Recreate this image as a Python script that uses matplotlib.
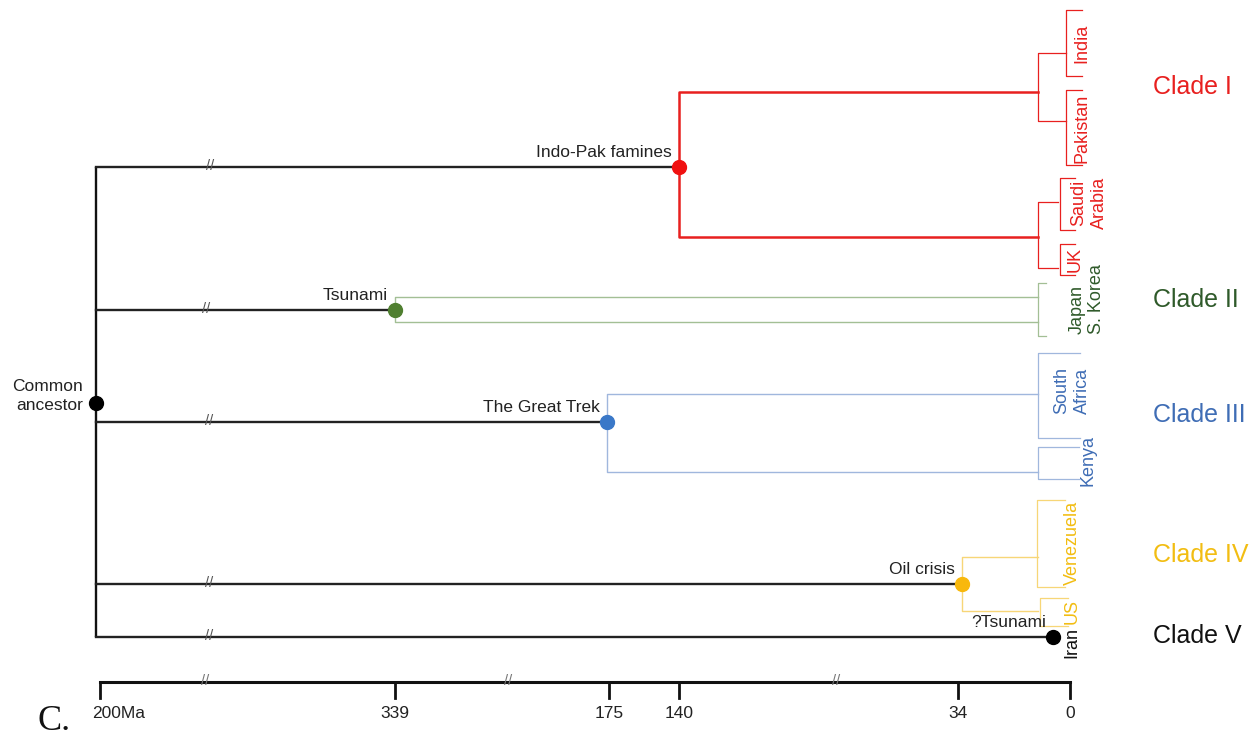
import matplotlib
matplotlib.use("Agg")
import matplotlib.pyplot as plt
from matplotlib import font_manager

# tree drawn on a schematic canvas (broken time axis, positions in canvas units)
TICK_LABELS = ["200Ma", "339", "175", "140", "34", "0"]
TICK_POS = [100, 395, 609, 679, 958, 1070]
AXIS_BREAKS = [205, 508, 836]

ROOT_X = 96
ROOT_Y = 403

EVENTS = ["Indo-Pak famines", "Tsunami", "The Great Trek", "Oil crisis", "?Tsunami"]
EVENT_X = [679, 395, 607, 962, 1053]
EVENT_Y = [167, 310, 422, 584, 637]
BRANCH_BREAK_X = [210, 206, 209, 209, 209]

# first split below each event: upper / lower child rows, x where the children join
SPLIT_TOP = [92, 297, 394, 557, None]
SPLIT_BOT = [237, 322, 472, 611, None]
SPLIT_END = [1038, 1038, 1038, 1038, None]

CLADES = ["Clade I", "Clade II", "Clade III", "Clade IV", "Clade V"]
CLADE_Y = [87, 300, 415, 555, 636]
TEXT_COLORS = ["#e8201f", "#2f5a2a", "#3f6db5", "#f2bd12", "#111111"]
DOT_COLORS = ["#f01010", "#4f7f30", "#3a78c8", "#f8b80c", "#000000"]
LINE_COLORS = ["#e8201f", "#a3bf95", "#a0b7dd", "#f7d677", "#222222"]

# inner nodes of clade I (x, y_top, y_bot, x_end)
RED_INNER = [(1038, 53, 121, 1066), (1038, 202, 268, 1058)]

# leaf brackets: clade index, x, y_top, y_bot, tick end, label, label x, label y
# (label y is the centre, or the text's lower end when it ends with "|")
LEAVES = [
    (0, 1066, 10, 76, 1082, "India", 1082, 43),
    (0, 1066, 90, 165, 1082, "Pakistan", 1082, 128),
    (0, 1060, 178, 230, 1075, "Saudi\nArabia", 1089, 203),
    (0, 1060, 244, 275, 1075, "UK", 1075, 259),
    (1, 1038, 283, 336, 1046, "Japan\nS. Korea|", 1087, 334),
    (2, 1038, 353, 438, 1080, "South\nAfrica", 1072, 391),
    (2, 1038, 447, 479, 1079, "Kenya", 1088, 461),
    (3, 1037, 500, 587, 1065, "Venezuela", 1072, 543),
    (3, 1040, 598, 626, 1068, "US", 1072, 612),
    (4, None, None, None, None, "Iran", 1072, 642),
]

try:
    font_manager.findfont(font_manager.FontProperties(family="Liberation Sans Narrow"),
                          fallback_to_default=False)
    TICK_FONT, TICK_SIZE = "Liberation Sans Narrow", 14.5
except ValueError:
    TICK_FONT, TICK_SIZE = "Liberation Sans", 12.5

plt.rcParams["font.family"] = ["Liberation Sans", "DejaVu Sans"]

fig = plt.figure(figsize=(12.59, 7.40), dpi=100)
ax = fig.add_axes([0, 0, 1, 1])
ax.set_xlim(0, 1259)
ax.set_ylim(740, 0)
ax.axis("off")

# root
ax.plot([ROOT_X, ROOT_X], [min(EVENT_Y), max(EVENT_Y)], color="#111111", lw=1.7,
        solid_capstyle="butt")
ax.plot(ROOT_X, ROOT_Y, "o", color="black", ms=10, zorder=5)
ax.text(ROOT_X - 13, ROOT_Y - 7, "Common\nancestor", ha="right", va="center",
        fontsize=12.5, color="#222222", linespacing=1.3)

for i, name in enumerate(EVENTS):
    ex, ey = EVENT_X[i], EVENT_Y[i]
    ax.plot([ROOT_X, ex], [ey, ey], color="#222222", lw=1.7, zorder=2)
    ax.text(BRANCH_BREAK_X[i], ey - 1, "//", ha="center", va="center",
            fontsize=10.5, color="#555555", family=TICK_FONT)
    ax.text(ex - 7, ey - 7, name, ha="right", va="bottom", fontsize=12.5,
            color="#222222")
    ax.plot(ex, ey, "o", color=DOT_COLORS[i], ms=10, zorder=5)

    if SPLIT_TOP[i] is not None:
        lw = 1.8 if i == 0 else 1.0
        c = LINE_COLORS[i]
        ax.plot([SPLIT_END[i], ex, ex, SPLIT_END[i]],
                [SPLIT_TOP[i], SPLIT_TOP[i], SPLIT_BOT[i], SPLIT_BOT[i]],
                color=c, lw=lw, zorder=3)

    ax.text(1153, CLADE_Y[i], CLADES[i], ha="left", va="center", fontsize=18,
            color=TEXT_COLORS[i])

# clade I inner splits
for x, yt, yb, xe in RED_INNER:
    ax.plot([xe, x, x, xe], [yt, yt, yb, yb], color="#e8201f", lw=0.9)

for ci, x, yt, yb, xe, label, lx, ly in LEAVES:
    if x is not None:
        ax.plot([xe, x, x, xe], [yt, yt, yb, yb], color=LINE_COLORS[ci], lw=0.9)
    bottom = label.endswith("|")
    lines = label.rstrip("|").split("\n")
    for k, line in enumerate(lines):
        x_line = lx + (k - (len(lines) - 1) / 2) * 20
        ax.text(x_line, ly, line, rotation=90, ha="center",
                va="bottom" if bottom else "center", fontsize=13,
                color=TEXT_COLORS[ci])

# time axis
axis_y = 682
ax.plot([TICK_POS[0], TICK_POS[-1]], [axis_y, axis_y], color="#111111", lw=2.2)
for pos, lab in zip(TICK_POS, TICK_LABELS):
    ax.plot([pos, pos], [axis_y, axis_y + 16], color="#111111", lw=2)
    ax.text(pos + (19 if lab == "200Ma" else 0), 713, lab, ha="center",
            va="center", fontsize=TICK_SIZE, color="#222222", family=TICK_FONT)
for bx in AXIS_BREAKS:
    ax.text(bx, axis_y - 1, "//", ha="center", va="center", fontsize=10.5,
            color="#777777", family=TICK_FONT)

ax.text(38, 722, "C.", ha="left", va="center", fontsize=26,
        family="Liberation Serif", color="#111111")

fig.savefig("out.png", dpi=100)
